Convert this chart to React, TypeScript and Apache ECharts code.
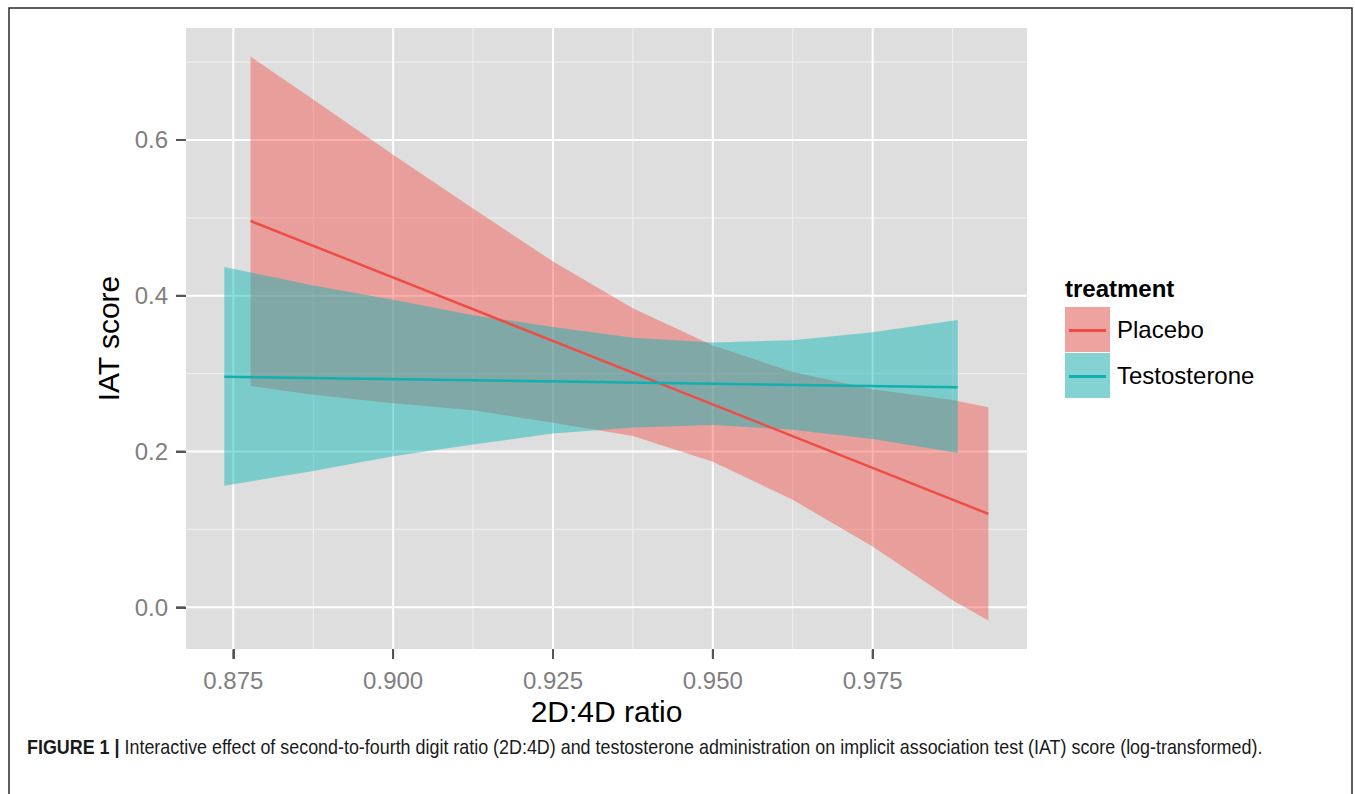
import React, { useEffect, useRef } from "react";
import * as echarts from "echarts";

// ---- data ----
const xTicks = [0.875, 0.9, 0.925, 0.95, 0.975];
const xMinor = [0.8875, 0.9125, 0.9375, 0.9625, 0.9875];
const yTicks = [0, 0.2, 0.4, 0.6];
const yMinor = [0.1, 0.3, 0.5, 0.7];

const placeboX = [0.8777, 0.8875, 0.9, 0.9125, 0.925, 0.9375, 0.95, 0.9625, 0.975, 0.9875, 0.9931];
const placeboLower = [0.284, 0.273, 0.262, 0.253, 0.237, 0.22, 0.187, 0.138, 0.078, 0.009, -0.017];
const placeboUpper = [0.707, 0.652, 0.581, 0.512, 0.444, 0.384, 0.336, 0.302, 0.28, 0.266, 0.257];
const placeboLineX = [0.8777, 0.9931];
const placeboLineY = [0.496, 0.12];

const testoX = [0.8736, 0.8875, 0.9, 0.9125, 0.925, 0.9375, 0.95, 0.9625, 0.975, 0.9883];
const testoLower = [0.156, 0.175, 0.194, 0.209, 0.223, 0.231, 0.234, 0.228, 0.216, 0.198];
const testoUpper = [0.437, 0.413, 0.395, 0.375, 0.36, 0.346, 0.34, 0.343, 0.353, 0.369];
const testoLineX = [0.8736, 0.9883];
const testoLineY = [0.296, 0.2825];

const X_MIN = 0.8676;
const X_MAX = 0.99914;
const Y_MIN = -0.0535;
const Y_MAX = 0.7437;

const FONT = "'Liberation Sans', Arial, Helvetica, sans-serif";
const RED_FILL = "rgba(244,82,77,0.46)";
const TEAL_FILL = "rgba(7,181,181,0.46)";
const RED_KEY = "#EFA3A1";
const TEAL_KEY = "#84D2D2";
const RED_LINE = "#EE4D46";
const TEAL_LINE = "#12AFAF";
const TICK_COLOR = "#555555";
const TICK_LEN = 10;

function bandSeries(name: string, xs: number[], lo: number[], hi: number[], fill: string) {
  return {
    type: "custom",
    name,
    silent: true,
    clip: true,
    itemStyle: { color: fill },
    data: xs.map((x, i) => [x, lo[i], hi[i]]),
    encode: { x: 0, y: [1, 2] },
    renderItem: (params: any, api: any) => {
      if (params.dataIndex !== 0) return null;
      const top = xs.map((x, i) => api.coord([x, hi[i]]));
      const bot = xs.map((x, i) => api.coord([x, lo[i]])).reverse();
      return {
        type: "polygon",
        shape: { points: top.concat(bot) },
        style: { fill, stroke: "none" },
      };
    },
  };
}

const tickStyle = {
  show: true,
  length: TICK_LEN,
  inside: false,
  lineStyle: { color: TICK_COLOR, width: 2 },
};

export default function App() {
  const ref = useRef<HTMLDivElement>(null);
  useEffect(() => {
    if (!ref.current) return;
    const chart = echarts.init(ref.current, undefined, { renderer: "svg" });
    const option: any = {
      animation: false,
      backgroundColor: "#ffffff",
      grid: {
        left: 186,
        right: 328,
        top: 28,
        bottom: 145,
        show: true,
        backgroundColor: "#DEDEDE",
        borderWidth: 0,
      },
      title: [
        {
          text: "treatment",
          left: 1065,
          top: 276,
          padding: 0,
          textStyle: { fontFamily: FONT, fontSize: 24, fontWeight: "bold", color: "#000" },
        },
      ],
      legend: [
        {
          orient: "vertical",
          left: 1065,
          top: 307,
          itemWidth: 45,
          itemHeight: 45,
          itemGap: 1,
          padding: 0,
          icon: "rect",
          selectedMode: false,
          data: [
            { name: "Placebo", itemStyle: { color: RED_KEY } },
            { name: "Testosterone", itemStyle: { color: TEAL_KEY } },
          ],
          textStyle: { fontFamily: FONT, fontSize: 24, color: "#000", padding: [0, 0, 0, 2] },
        },
        {
          orient: "vertical",
          left: 1069,
          top: 329,
          itemWidth: 37,
          itemHeight: 3,
          itemGap: 43,
          padding: 0,
          icon: "rect",
          selectedMode: false,
          formatter: () => "",
          data: [
            { name: "Placebo fit", itemStyle: { color: RED_LINE } },
            { name: "Testosterone fit", itemStyle: { color: TEAL_LINE } },
          ],
          textStyle: { fontSize: 1, color: "#000" },
        },
      ],
      xAxis: {
        type: "value",
        min: X_MIN,
        max: X_MAX,
        name: "2D:4D ratio",
        nameLocation: "middle",
        nameGap: 46,
        nameTextStyle: { fontFamily: FONT, fontSize: 30, color: "#000" },
        axisLine: { show: true, onZero: false, lineStyle: { color: "rgba(0,0,0,0)", width: 1 } },
        axisTick: { ...tickStyle, customValues: xTicks },
        axisLabel: {
          customValues: xTicks,
          margin: 19,
          fontFamily: FONT,
          fontSize: 24,
          color: "#7F7F7F",
          formatter: (v: number) => v.toFixed(3),
        },
        splitLine: { show: false },
      },
      yAxis: {
        type: "value",
        min: Y_MIN,
        max: Y_MAX,
        name: "IAT score",
        nameLocation: "middle",
        nameGap: 58,
        nameRotate: 90,
        nameTextStyle: { fontFamily: FONT, fontSize: 30, color: "#000" },
        axisLine: { show: true, onZero: false, lineStyle: { color: "rgba(0,0,0,0)", width: 1 } },
        axisTick: { ...tickStyle, customValues: yTicks },
        axisLabel: {
          customValues: yTicks,
          margin: 18,
          fontFamily: FONT,
          fontSize: 24,
          color: "#7F7F7F",
          formatter: (v: number) => v.toFixed(1),
        },
        splitLine: { show: false },
      },
      graphic: [
        {
          type: "rect",
          silent: true,
          shape: { x: 9, y: 8, width: 1343, height: 820 },
          style: { fill: "none", stroke: "#2a2a2a", lineWidth: 1.5 },
        },
        {
          type: "text",
          silent: true,
          x: 27,
          y: 747,
          scaleX: 0.895,
          style: {
            text: "{b|FIGURE 1 |} Interactive effect of second-to-fourth digit ratio (2D:4D) and testosterone administration on implicit association test (IAT) score (log-transformed).",
            fontFamily: FONT,
            fontSize: 20,
            fill: "#1a1a1a",
            verticalAlign: "middle",
            rich: {
              b: { fontFamily: FONT, fontSize: 20, fontWeight: "bold", fill: "#1a1a1a" },
            },
          },
        },
      ],
      series: [
        {
          type: "custom",
          name: "grid lines",
          silent: true,
          clip: false,
          data: [[0.9, 0.3]],
          renderItem: (params: any, api: any) => {
            const children: any[] = [];
            const mk = (p1: number[], p2: number[], stroke: string, w: number) => ({
              type: "line",
              shape: { x1: p1[0], y1: p1[1], x2: p2[0], y2: p2[1] },
              style: { stroke, lineWidth: w },
            });
            yMinor.forEach((v) => children.push(mk(api.coord([X_MIN, v]), api.coord([X_MAX, v]), "#EEEEEE", 1.2)));
            xMinor.forEach((v) => children.push(mk(api.coord([v, Y_MIN]), api.coord([v, Y_MAX]), "#EEEEEE", 1.2)));
            yTicks.forEach((v) => children.push(mk(api.coord([X_MIN, v]), api.coord([X_MAX, v]), "#FFFFFF", 2)));
            xTicks.forEach((v) => children.push(mk(api.coord([v, Y_MIN]), api.coord([v, Y_MAX]), "#FFFFFF", 2)));
            xTicks.forEach((v) => {
              const p = api.coord([v, Y_MIN]);
              children.push(mk([p[0], p[1] + 0.5], [p[0], p[1] + TICK_LEN], TICK_COLOR, 2));
            });
            yTicks.forEach((v) => {
              const p = api.coord([X_MIN, v]);
              children.push(mk([p[0] - TICK_LEN, p[1]], [p[0] - 0.5, p[1]], TICK_COLOR, 2));
            });
            return { type: "group", children };
          },
        },
        bandSeries("Placebo", placeboX, placeboLower, placeboUpper, RED_FILL),
        {
          type: "line",
          name: "Placebo fit",
          silent: true,
          showSymbol: false,
          symbol: "none",
          data: placeboLineX.map((x, i) => [x, placeboLineY[i]]),
          itemStyle: { color: RED_LINE },
          lineStyle: { color: RED_LINE, width: 2.5 },
        },
        bandSeries("Testosterone", testoX, testoLower, testoUpper, TEAL_FILL),
        {
          type: "line",
          name: "Testosterone fit",
          silent: true,
          showSymbol: false,
          symbol: "none",
          data: testoLineX.map((x, i) => [x, testoLineY[i]]),
          itemStyle: { color: TEAL_LINE },
          lineStyle: { color: TEAL_LINE, width: 2.5 },
        },
      ],
    };
    chart.setOption(option);
    return () => chart.dispose();
  }, []);
  return (
    <div
      ref={ref}
      style={{ position: "fixed", left: 0, top: 0, width: 1355, height: 794 }}
    />
  );
}
